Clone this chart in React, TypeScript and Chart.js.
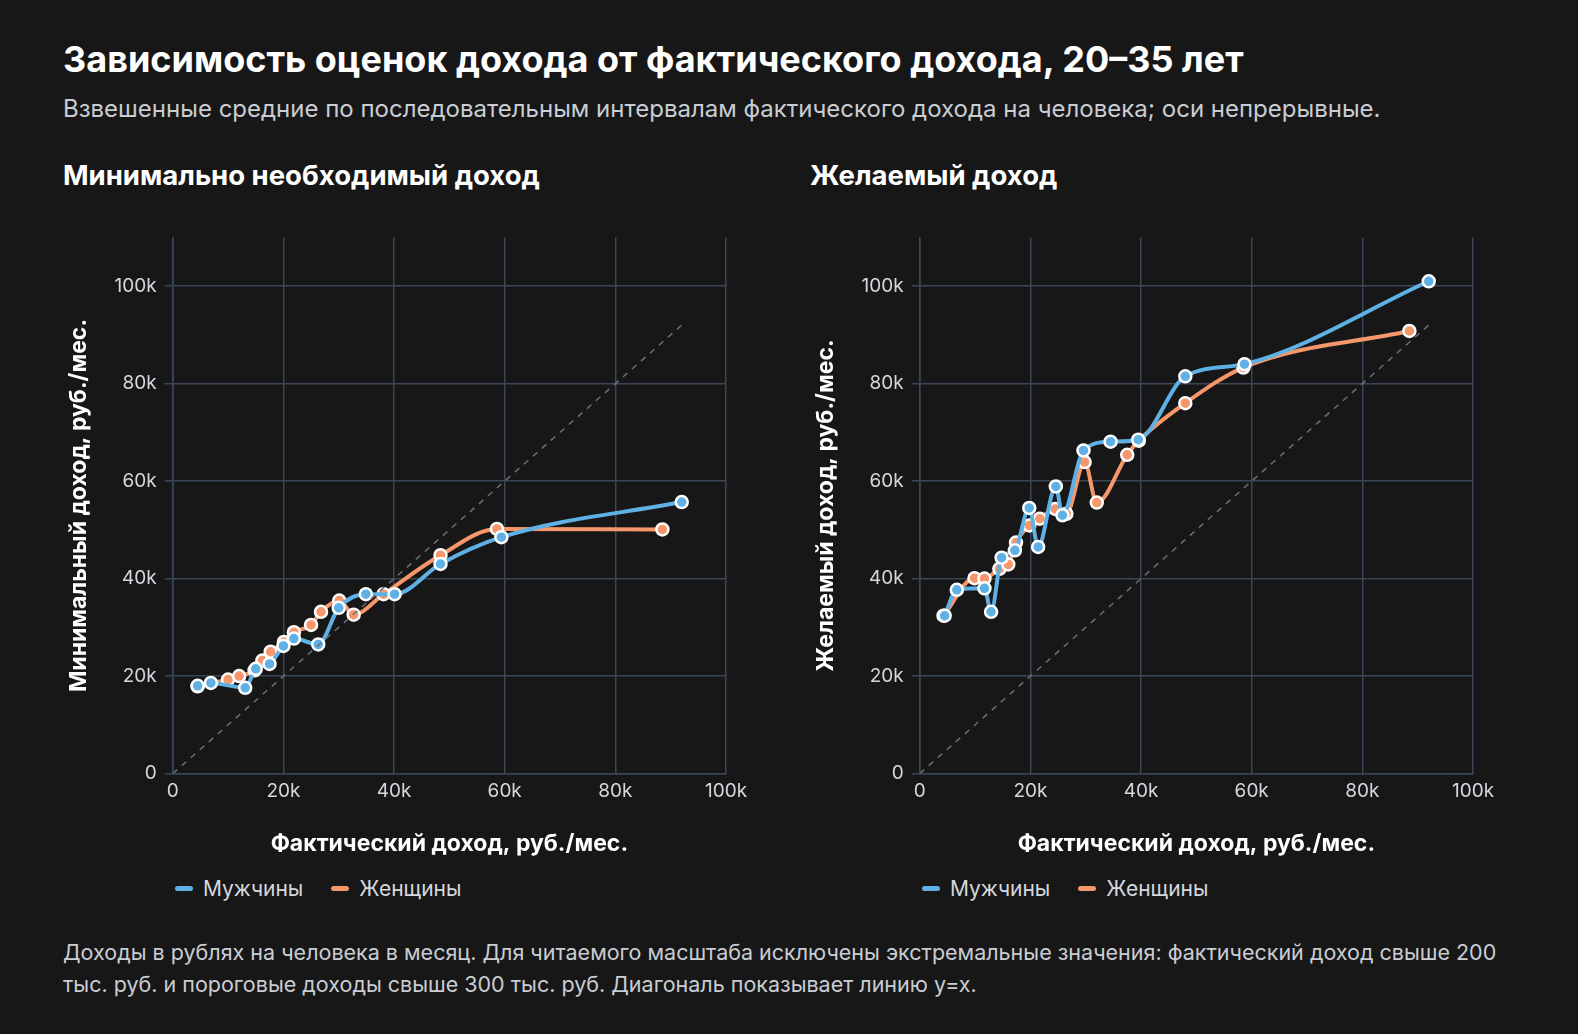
import React, { useEffect, useRef } from "react";
import { Chart, registerables } from "chart.js";
Chart.register(...registerables);

const minMenX = [4.5, 6.9, 13.1, 15, 17.5, 20, 21.9, 26.3, 30, 34.9, 40.1, 48.4, 59.4, 92];
const minMenY = [18, 18.6, 17.6, 21.5, 22.5, 26.2, 27.7, 26.5, 34, 36.8, 36.8, 43, 48.5, 55.7];
const minWomX = [4.5, 10, 12, 14.8, 16.2, 17.7, 20.1, 21.9, 25, 26.8, 30.1, 32.7, 38.1, 48.4, 58.6, 88.5];
const minWomY = [17.9, 19.3, 20, 21.2, 23.2, 25, 27, 29, 30.5, 33.2, 35.5, 32.6, 36.8, 44.8, 50.2, 50.1];
const desMenX = [4.5, 6.7, 11.7, 12.9, 14.8, 17.2, 19.8, 21.4, 24.6, 25.8, 29.6, 34.5, 39.5, 48, 58.7, 92];
const desMenY = [32.4, 37.7, 38, 33.2, 44.3, 45.8, 54.5, 46.5, 58.9, 53, 66.3, 68.1, 68.5, 81.5, 84, 101];
const desWomX = [4.3, 9.9, 11.7, 14.4, 16, 17.4, 19.8, 21.7, 24.5, 26.5, 29.8, 32, 37.5, 39.6, 48, 58.5, 88.5];
const desWomY = [32.4, 40.1, 40, 42, 42.9, 47.4, 50.9, 52.3, 54.3, 53.3, 63.9, 55.6, 65.4, 68.3, 76, 83.3, 90.8];
const diagX = [0, 92];
const tickValues = [0, 20, 40, 60, 80, 100];

const BLUE = "#5fb0e4";
const ORANGE = "#f5966b";
const GRID = "#3b4756";
const FONT = "Inter, 'DejaVu Sans', sans-serif";

const pts = (xs: number[], ys: number[]) => xs.map((x, i) => ({ x: x * 1000, y: ys[i] * 1000 }));
const fmt = (v: any) => (v === 0 ? "0" : v / 1000 + "k");
const setTicks = (axis: any) => { axis.ticks = tickValues.map((v) => ({ value: v * 1000 })); };

function Panel({ menX, menY, womX, womY, yTitle }: any) {
  const ref = useRef<HTMLCanvasElement>(null);
  useEffect(() => {
    const line = (data: any, color: string) => ({
      data, borderColor: color, backgroundColor: color, borderWidth: 4, showLine: true,
      pointRadius: 6, pointBorderColor: "#ffffff", pointBorderWidth: 2.5,
      cubicInterpolationMode: "monotone" as const,
    });
    const chart = new Chart(ref.current!, {
      type: "scatter",
      data: {
        datasets: [
          { data: pts(diagX, diagX), showLine: true, borderColor: "#6b6f75", borderWidth: 1.5, borderDash: [6, 6], pointRadius: 0 },
          line(pts(menX, menY), BLUE),
          line(pts(womX, womY), ORANGE),
        ],
      },
      options: {
        animation: false, responsive: false,
        layout: { padding: { top: 12, right: 37, left: 2, bottom: 0 } },
        plugins: { legend: { display: false }, tooltip: { enabled: false } },
        scales: {
          x: {
            min: 0, max: 100000, afterBuildTicks: setTicks,
            ticks: { color: "#d4d8de", font: { family: FONT, size: 19 }, callback: fmt, padding: 6, maxRotation: 0 },
            grid: { color: GRID, lineWidth: 1.5, tickLength: 0 },
            border: { color: GRID, width: 1.5 },
            title: { display: true, text: "Фактический доход, руб./мес.", color: "#ffffff", font: { family: FONT, size: 23, weight: "bold" }, padding: { top: 22, bottom: 8 } },
          },
          y: {
            min: 0, max: 110000, afterBuildTicks: setTicks,
            ticks: { color: "#d4d8de", font: { family: FONT, size: 19 }, callback: fmt, padding: 8 },
            grid: { color: GRID, lineWidth: 1.5, tickLength: 8 },
            border: { color: GRID, width: 1.5 },
            title: { display: true, text: yTitle, color: "#ffffff", font: { family: FONT, size: 23, weight: "bold" }, padding: { top: 0, bottom: 14 } },
          },
        },
      },
    });
    return () => chart.destroy();
  }, []);
  return <canvas ref={ref} width={700} height={648} style={{ width: 700, height: 648, display: "block" }} />;
}

function Legend() {
  const item = (c: string, t: string) => (
    <span style={{ display: "inline-flex", alignItems: "center", marginRight: 28 }}>
      <span style={{ width: 18, height: 5, borderRadius: 3, background: c, marginRight: 10 }} />
      {t}
    </span>
  );
  return <div style={{ color: "#d4d8de", fontSize: 21, display: "flex" }}>{item(BLUE, "Мужчины")}{item(ORANGE, "Женщины")}</div>;
}

export default function App() {
  return (
    <div style={{ position: "fixed", inset: 0, background: "#171717", fontFamily: FONT, color: "#fff" }}>
      <div style={{ position: "absolute", left: 63, top: 37, fontSize: 36, fontWeight: 700 }}>Зависимость оценок дохода от фактического дохода, 20–35 лет</div>
      <div style={{ position: "absolute", left: 63, top: 94, fontSize: 24, color: "#c9cdd3" }}>Взвешенные средние по последовательным интервалам фактического дохода на человека; оси непрерывные.</div>
      <div style={{ position: "absolute", left: 63, top: 158, fontSize: 27.5, fontWeight: 700 }}>Минимально необходимый доход</div>
      <div style={{ position: "absolute", left: 810, top: 158, fontSize: 27.5, fontWeight: 700 }}>Желаемый доход</div>
      <div style={{ position: "absolute", left: 63, top: 218 }}>
        <Panel menX={minMenX} menY={minMenY} womX={minWomX} womY={minWomY} yTitle="Минимальный доход, руб./мес." />
      </div>
      <div style={{ position: "absolute", left: 810, top: 218 }}>
        <Panel menX={desMenX} menY={desMenY} womX={desWomX} womY={desWomY} yTitle="Желаемый доход, руб./мес." />
      </div>
      <div style={{ position: "absolute", left: 175, top: 876 }}><Legend /></div>
      <div style={{ position: "absolute", left: 922, top: 876 }}><Legend /></div>
      <div style={{ position: "absolute", left: 63, top: 936, width: 1440, fontSize: 21.5, lineHeight: "32px", color: "#c9cdd3" }}>
        Доходы в рублях на человека в месяц. Для читаемого масштаба исключены экстремальные значения: фактический доход свыше 200 тыс. руб. и пороговые доходы свыше 300 тыс. руб. Диагональ показывает линию y=x.
      </div>
    </div>
  );
}
